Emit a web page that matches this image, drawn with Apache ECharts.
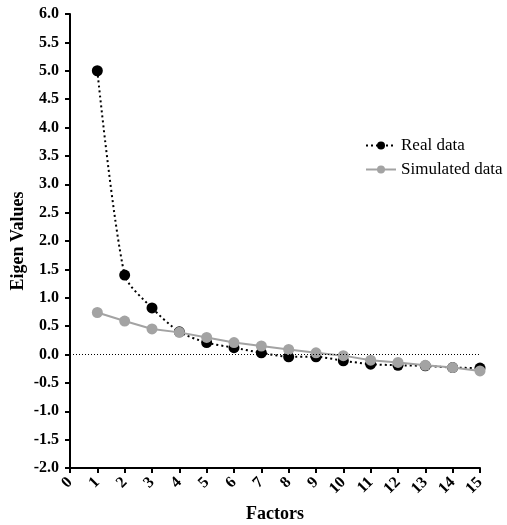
<!DOCTYPE html>
<html>
<head>
<meta charset="utf-8">
<script src="https://cdn.jsdelivr.net/npm/echarts@6/dist/echarts.min.js"></script>
<style>
  html, body { margin: 0; padding: 0; background: #fff; }
  #chart { width: 507px; height: 525px; }
</style>
</head>
<body>
<div id="chart"></div>
<script>
'use strict';

var factors = [1, 2, 3, 4, 5, 6, 7, 8, 9, 10, 11, 12, 13, 14, 15];
var realData = [5.0, 1.40, 0.82, 0.40, 0.21, 0.12, 0.03, -0.04, -0.04, -0.11, -0.17, -0.19, -0.20, -0.23, -0.24];
var simulatedData = [0.74, 0.59, 0.45, 0.39, 0.30, 0.21, 0.15, 0.09, 0.03, -0.02, -0.10, -0.14, -0.19, -0.23, -0.29];

var serif = 'Liberation Serif, Times New Roman, serif';

var pairs = function (values) {
    return factors.map(function (f, i) { return [f, values[i]]; });
};

var chart = echarts.init(document.getElementById('chart'));

chart.setOption({
    animation: false,
    grid: { left: 70, right: 27, top: 14, bottom: 57, outerBoundsMode: 'none', containLabel: false },
    legend: {
        orient: 'vertical',
        left: 360,
        top: 132,
        itemGap: 7,
        itemWidth: 30,
        itemHeight: 10,
        textStyle: { fontFamily: serif, fontSize: 17, color: '#000' },
        data: ['Real data', 'Simulated data']
    },
    xAxis: {
        type: 'value',
        min: 0,
        max: 15,
        interval: 1,
        name: 'Factors',
        nameLocation: 'middle',
        nameGap: 37,
        nameTextStyle: { fontFamily: serif, fontSize: 18, fontWeight: 'bold', color: '#000' },
        axisLine: { onZero: false, lineStyle: { color: '#000', width: 2 } },
        axisTick: { length: 5, lineStyle: { color: '#000', width: 2 } },
        axisLabel: { rotate: 45, fontFamily: serif, fontSize: 16, fontWeight: 'bold', color: '#000', margin: 12 },
        splitLine: { show: false }
    },
    yAxis: {
        type: 'value',
        min: -2,
        max: 6,
        interval: 0.5,
        name: 'Eigen Values',
        nameLocation: 'middle',
        nameGap: 43,
        nameMoveOverlap: false,
        nameTextStyle: { fontFamily: serif, fontSize: 18, fontWeight: 'bold', color: '#000' },
        axisLine: { show: true, lineStyle: { color: '#000', width: 2 } },
        axisTick: { show: true, length: 5, lineStyle: { color: '#000', width: 2 } },
        axisLabel: {
            fontFamily: serif, fontSize: 16, fontWeight: 'bold', color: '#000', margin: 11,
            formatter: function (v) { return v.toFixed(1); }
        },
        splitLine: { show: false }
    },
    series: [
        {
            name: 'Real data',
            type: 'line',
            data: pairs(realData),
            smooth: 0.25,
            symbol: 'circle',
            symbolSize: 11,
            itemStyle: { color: '#000' },
            lineStyle: { color: '#000', width: 2, type: [2, 3] },
            z: 2,
            markLine: {
                silent: true,
                symbol: 'none',
                label: { show: false },
                lineStyle: { color: '#000', width: 1, type: [1, 2] },
                data: [{ yAxis: 0 }]
            }
        },
        {
            name: 'Simulated data',
            type: 'line',
            data: pairs(simulatedData),
            symbol: 'circle',
            symbolSize: 11,
            itemStyle: { color: '#a3a3a3' },
            lineStyle: { color: '#a3a3a3', width: 2 },
            z: 3
        }
    ]
});
</script>
</body>
</html>
